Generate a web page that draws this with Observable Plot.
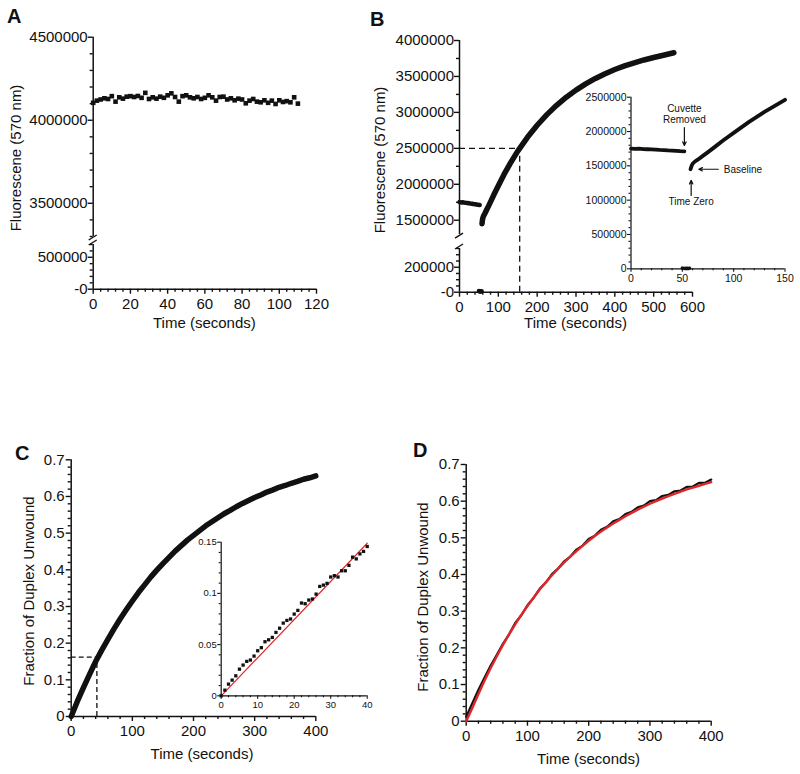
<!DOCTYPE html>
<html><head><meta charset="utf-8">
<script src="https://cdn.jsdelivr.net/npm/d3@7"></script>
<script src="https://cdn.jsdelivr.net/npm/@observablehq/plot@0.6"></script>
<style>
body{margin:0;background:#fff;}
#fig{position:relative;width:800px;height:774px;overflow:hidden;font-family:"Liberation Sans",Arial,Helvetica,sans-serif;color:#111;}
#fig svg{position:absolute;left:0;top:0;}
.lbl{position:absolute;white-space:nowrap;line-height:1;font-size:15px;}
.ylab{transform:translate(-50%,-50%) rotate(-90deg);}
.xlab{transform:translate(-50%,-50%);}
.panel{font-weight:bold;font-size:20px;}
</style></head><body><div id="fig"></div><script>
// ---------------- Panel A data ----------------
const aTime = [0,2,4,6,8,10,12,14,16,18,20,22,24,26,28,30,32,34,36,38,40,42,44,46,48,50,52,54,56,58,60,62,64,66,68,70,72,74,76,78,80,82,84,86,88,90,92,94,96,98,100,102,104,106,108,110];
const aFluor = [4105000,4118000,4125000,4132000,4128000,4145000,4112000,4138000,4130000,4142000,4145000,4140000,4146000,4135000,4165000,4128000,4138000,4130000,4142000,4135000,4150000,4162000,4140000,4112000,4145000,4150000,4138000,4132000,4140000,4128000,4135000,4150000,4138000,4118000,4140000,4142000,4125000,4132000,4120000,4130000,4125000,4102000,4118000,4128000,4112000,4108000,4120000,4105000,4118000,4098000,4120000,4110000,4115000,4108000,4138000,4100000];
const aYTicks = [0, 500000, 3500000, 4000000, 4500000];
const aXTicks = [0, 20, 40, 60, 80, 100, 120];

// ---------------- Panel B data ----------------
const bFlatTime = [0,4,8,12,16,20,24,28,32,36,40,44,48,52];
const bFlatFluor = [1752000,1748000,1750000,1745000,1742000,1740000,1736000,1732000,1730000,1725000,1722000,1718000,1714000,1712000];
const bDropTime = [50, 52, 54, 56, 57];
const bDropFluor = [10000, 6000, 8000, 5000, 9000];
const bRiseTime = [58,59,60,62,65,70,75,82,90,100,115,130,150,175,200,225,250,275,300,325,350,375,400,425,450,475,500,525,552];
const bRiseFluor = [1450000,1500000,1530000,1560000,1590000,1645000,1700000,1780000,1872000,1980000,2140000,2285000,2462000,2653000,2821000,2969000,3098000,3211000,3310000,3396000,3472000,3538000,3596000,3646000,3690000,3729000,3763000,3795000,3830000];
const bHalfTime = 155, bHalfFluor = 2500000;
const bYTicks = [0, 200000, 1500000, 2000000, 2500000, 3000000, 3500000, 4000000];
const bXTicks = [0, 100, 200, 300, 400, 500, 600];
const bInsetYTicks = [0, 500000, 1000000, 1500000, 2000000, 2500000];
const bInsetXTicks = [0, 50, 100, 150];
const bNoteText = ["Cuvette", "Removed", "Time Zero"];
const bNoteTime = [52, 52, 58.6];
const bNoteFluor = [2331000, 2171000, 970000];
const bNote2Text = ["Baseline"];
const bNote2Time = [90.4];
const bNote2Fluor = [1442000];
const bArrowT1 = [52, 85, 58.6], bArrowF1 = [2058000, 1450000, 1068000];
const bArrowT2 = [52, 66, 58.6], bArrowF2 = [1796000, 1450000, 1290000];

// ---------------- Panel C data ----------------
const cTime = [0,10,20,30,40,50,60,70,80,90,100,110,120,130,140,150,160,170,180,190,200,210,220,230,240,250,260,270,280,290,300,310,320,330,340,350,360,370,380,390,400];
const cFrac = [0,0.041,0.079,0.115,0.150,0.181,0.210,0.239,0.266,0.291,0.315,0.338,0.359,0.380,0.399,0.417,0.434,0.451,0.466,0.481,0.494,0.507,0.520,0.531,0.542,0.553,0.562,0.572,0.581,0.589,0.597,0.604,0.612,0.618,0.625,0.630,0.636,0.641,0.647,0.651,0.656];
const cHalfTime = 42, cHalfFrac = 0.162;
const cYTicks = [0, 0.1, 0.2, 0.3, 0.4, 0.5, 0.6, 0.7];
const cXTicks = [0, 100, 200, 300, 400];
const cInsetTime = [0,1,2,3,4,5,6,7,8,9,10,11,12,13,14,15,16,17,18,19,20,21,22,23,24,25,26,27,28,29,30,31,32,33,34,35,36,37,38,39,40];
const cInsetFrac = [0,0.0055,0.0114,0.0153,0.0195,0.026,0.030,0.0336,0.0349,0.0388,0.044,0.047,0.0528,0.0547,0.057,0.0619,0.066,0.071,0.0736,0.075,0.0798,0.0834,0.0906,0.0899,0.0935,0.0945,0.0993,0.1068,0.1081,0.1098,0.116,0.1173,0.116,0.1221,0.1221,0.1274,0.1354,0.1337,0.1386,0.141,0.1458];
const cFitTime = [0, 40];
const cFitFrac = [0, 0.149];
const cInsetYTicks = [0, 0.05, 0.1, 0.15];
const cInsetXTicks = [0, 10, 20, 30, 40];

// ---------------- Panel D data ----------------
const dTime = cTime;
const dFrac = [0.012,0.049,0.086,0.119,0.152,0.181,0.211,0.237,0.268,0.289,0.316,0.336,0.361,0.378,0.401,0.416,0.436,0.449,0.468,0.479,0.497,0.506,0.522,0.530,0.545,0.551,0.565,0.571,0.583,0.588,0.600,0.603,0.614,0.617,0.627,0.629,0.639,0.640,0.650,0.650,0.659];
const dFitFrac = [0,0.036,0.074,0.111,0.145,0.177,0.208,0.237,0.264,0.290,0.314,0.337,0.359,0.379,0.398,0.416,0.433,0.449,0.464,0.478,0.492,0.505,0.517,0.528,0.539,0.549,0.559,0.568,0.577,0.585,0.593,0.600,0.607,0.614,0.620,0.626,0.632,0.637,0.642,0.647,0.652];

// ---------------- helpers ----------------
const FONT = '"Liberation Sans", Arial, Helvetica, sans-serif';
const INK = "#111";
const RED = "#e0262a";
const W = 800, H = 774;
const fig = document.getElementById("fig");

function mg(left, right, top, bottom) {
  return {width: W, height: H, marginLeft: left, marginRight: W - right, marginTop: top, marginBottom: H - bottom};
}
function st(size) {
  return {fontFamily: FONT, fontSize: size + "px", background: "transparent", overflow: "visible", color: INK};
}
function minorOf(lo, hi, step, majors) {
  return d3.range(lo, hi + step / 2, step).map(v => +v.toFixed(6))
    .filter(v => !majors.some(m => Math.abs(m - v) < step / 10));
}
function axisMarks(o) {
  return [
    Plot.axisY({ticks: o.yTicks, tickFormat: o.yFmt, tickSize: o.major, tickPadding: o.yPad, fontSize: o.size, strokeWidth: o.sw, label: null}),
    Plot.axisY({ticks: o.yMinor, tickFormat: () => "", tickSize: o.minor, strokeWidth: o.sw, label: null}),
    Plot.axisX({ticks: o.xTicks, tickFormat: o.xFmt, tickSize: o.major, tickPadding: o.xPad, fontSize: o.size, strokeWidth: o.sw, label: null}),
    Plot.axisX({ticks: o.xMinor, tickFormat: () => "", tickSize: o.minor, strokeWidth: o.sw, label: null})
  ];
}
function breakMark(xv, yUpper, yLower) {
  return (index, scales) => {
    const x0 = scales.x(xv), y1 = scales.y(yUpper), y2 = scales.y(yLower);
    const g = d3.create("svg:g").attr("stroke", INK).attr("stroke-width", 1.4).attr("fill", "none");
    for (const yy of [y1 + 1.5, y2 - 1.5]) {
      g.append("line").attr("x1", x0 - 4).attr("y1", yy + 2.5).attr("x2", x0 + 4).attr("y2", yy - 2.5);
    }
    return g.node();
  };
}
const fmtNeg0 = d => d === 0 ? "-0" : String(d);
const fmtPlain = d => String(d);
function add(el) { fig.appendChild(el); }
function label(text, cls, left, top) {
  const d = document.createElement("div");
  d.className = "lbl " + cls;
  d.textContent = text;
  d.style.left = left + "px";
  d.style.top = top + "px";
  fig.appendChild(d);
}

// ---------------- Panel A ----------------
const rowsA = aTime.map((t, i) => ({t, f: aFluor[i]}));
add(Plot.plot({
  ...mg(92.7, 316, 36.7, 288.7),
  style: st(15),
  x: {domain: [0, 120]},
  y: {type: "linear", domain: [0, 700000, 3300000, 4500000], range: [288.7, 244, 236, 36.7]},
  marks: [
    Plot.ruleX([{a: 0, b: 700000}, {a: 3300000, b: 4500000}], {x: 0, y1: "a", y2: "b", stroke: INK, strokeWidth: 1.5}),
    Plot.ruleY([0], {x1: 0, x2: 120, stroke: INK, strokeWidth: 1.5}),
    ...axisMarks({yTicks: aYTicks, yMinor: minorOf(0, 700000, 100000, aYTicks).concat(minorOf(3300000, 4500000, 100000, aYTicks)),
      xTicks: aXTicks, xMinor: minorOf(0, 120, 4, aXTicks), yFmt: fmtNeg0, xFmt: fmtPlain,
      size: 15, major: 5, minor: 3, xPad: 4, yPad: 0.5, sw: 1.4}),
    breakMark(0, 3300000, 700000),
    Plot.dot(rowsA, {x: "t", y: "f", symbol: "square", r: 2.6, fill: INK})
  ]
}));

// ---------------- Panel B ----------------
const flatB = bFlatTime.map((t, i) => ({t, f: bFlatFluor[i]}));
const dropB = bDropTime.map((t, i) => ({t, f: bDropFluor[i]}));
const riseB = bRiseTime.map((t, i) => ({t, f: bRiseFluor[i]}));
add(Plot.plot({
  ...mg(459, 692, 40, 291.7),
  style: st(15),
  x: {domain: [0, 600]},
  y: {type: "linear", domain: [0, 350000, 1300000, 4000000], range: [291.7, 248, 234.1, 40]},
  marks: [
    Plot.ruleX([{a: 0, b: 350000}, {a: 1300000, b: 4000000}], {x: 0, y1: "a", y2: "b", stroke: INK, strokeWidth: 1.5}),
    Plot.ruleY([0], {x1: 0, x2: 600, stroke: INK, strokeWidth: 1.5}),
    ...axisMarks({yTicks: bYTicks, yMinor: minorOf(0, 350000, 50000, bYTicks).concat(minorOf(1500000, 4000000, 250000, bYTicks)),
      xTicks: bXTicks, xMinor: minorOf(0, 600, 20, bXTicks), yFmt: fmtNeg0, xFmt: fmtPlain,
      size: 15, major: 5, minor: 3, xPad: 4, yPad: 0.5, sw: 1.4}),
    breakMark(0, 1300000, 350000),
    Plot.ruleY([bHalfFluor], {x1: 0, x2: bHalfTime, stroke: INK, strokeWidth: 1.3, strokeDasharray: "6,4"}),
    Plot.ruleX([bHalfTime], {y1: 0, y2: bHalfFluor, stroke: INK, strokeWidth: 1.3, strokeDasharray: "6,4"}),
    Plot.line(flatB, {x: "t", y: "f", stroke: INK, strokeWidth: 4.5, strokeLinecap: "round"}),
    Plot.dot(dropB, {x: "t", y: "f", r: 2.2, fill: INK}),
    Plot.line(riseB, {x: "t", y: "f", stroke: INK, strokeWidth: 5.5, strokeLinecap: "round"})
  ]
}));

// ---------------- Panel B inset ----------------
const notesB = bNoteText.map((s, i) => ({s, t: bNoteTime[i], f: bNoteFluor[i]}));
const notes2B = bNote2Text.map((s, i) => ({s, t: bNote2Time[i], f: bNote2Fluor[i]}));
const arrowsB = bArrowT1.map((t, i) => ({t1: t, f1: bArrowF1[i], t2: bArrowT2[i], f2: bArrowF2[i]}));
add(Plot.plot({
  ...mg(630.5, 784.5, 96.7, 268.3),
  style: st(10.5),
  x: {domain: [0, 150]},
  y: {domain: [0, 2500000]},
  marks: [
    Plot.ruleX([0], {y1: 0, y2: 2500000, stroke: INK, strokeWidth: 1.2}),
    Plot.ruleY([0], {x1: 0, x2: 150, stroke: INK, strokeWidth: 1.2}),
    ...axisMarks({yTicks: bInsetYTicks, yMinor: minorOf(0, 2500000, 100000, bInsetYTicks),
      xTicks: bInsetXTicks, xMinor: minorOf(0, 150, 10, bInsetXTicks), yFmt: fmtPlain, xFmt: fmtPlain,
      size: 10.5, major: 3.5, minor: 2, xPad: 2.2, yPad: 1, sw: 1.1}),
    Plot.line(flatB, {x: "t", y: "f", stroke: INK, strokeWidth: 3.8, strokeLinecap: "round"}),
    Plot.line(dropB, {x: "t", y: "f", stroke: INK, strokeWidth: 3.5, strokeLinecap: "round"}),
    Plot.line(riseB.filter(d => d.t <= 150), {x: "t", y: "f", stroke: INK, strokeWidth: 3.8, strokeLinecap: "round"}),
    Plot.arrow(arrowsB, {x1: "t1", y1: "f1", x2: "t2", y2: "f2", stroke: INK, strokeWidth: 1.2, headLength: 5, headAngle: 50}),
    Plot.text(notesB, {x: "t", y: "f", text: "s", fontSize: 10, fill: INK, textAnchor: "middle"}),
    Plot.text(notes2B, {x: "t", y: "f", text: "s", fontSize: 10, fill: INK, textAnchor: "start"})
  ]
}));

// ---------------- Panel C ----------------
const rowsC = cTime.map((t, i) => ({t, f: cFrac[i]}));
add(Plot.plot({
  ...mg(70.7, 315.3, 459.3, 716),
  style: st(15),
  x: {domain: [0, 400]},
  y: {domain: [0, 0.7]},
  marks: [
    Plot.ruleX([0], {y1: 0, y2: 0.7, stroke: INK, strokeWidth: 1.5}),
    Plot.ruleY([0], {x1: 0, x2: 400, stroke: INK, strokeWidth: 1.5}),
    ...axisMarks({yTicks: cYTicks, yMinor: minorOf(0, 0.7, 0.02, cYTicks),
      xTicks: cXTicks, xMinor: minorOf(0, 400, 20, cXTicks), yFmt: fmtPlain, xFmt: fmtPlain,
      size: 15, major: 5, minor: 3, xPad: 4, yPad: 1.5, sw: 1.4}),
    Plot.ruleY([cHalfFrac], {x1: 0, x2: cHalfTime, stroke: INK, strokeWidth: 1.3, strokeDasharray: "5,3"}),
    Plot.ruleX([cHalfTime], {y1: 0, y2: cHalfFrac, stroke: INK, strokeWidth: 1.3, strokeDasharray: "5,3"}),
    Plot.line(rowsC, {x: "t", y: "f", stroke: INK, strokeWidth: 5.5, strokeLinecap: "round"})
  ]
}));

// ---------------- Panel C inset ----------------
const rowsCi = cInsetTime.map((t, i) => ({t, f: cInsetFrac[i]}));
const fitCi = cFitTime.map((t, i) => ({t, f: cFitFrac[i]}));
add(Plot.plot({
  ...mg(220.7, 366.7, 541.7, 695.3),
  style: st(9.5),
  x: {domain: [0, 40]},
  y: {domain: [0, 0.15]},
  marks: [
    Plot.ruleX([0], {y1: 0, y2: 0.15, stroke: INK, strokeWidth: 1.2}),
    Plot.ruleY([0], {x1: 0, x2: 40, stroke: INK, strokeWidth: 1.2}),
    ...axisMarks({yTicks: cInsetYTicks, yMinor: minorOf(0, 0.15, 0.01, cInsetYTicks),
      xTicks: cInsetXTicks, xMinor: minorOf(0, 40, 2, cInsetXTicks), yFmt: fmtPlain, xFmt: fmtPlain,
      size: 9.5, major: 3.5, minor: 2, xPad: 2, yPad: 1, sw: 1.1}),
    Plot.line(fitCi, {x: "t", y: "f", stroke: RED, strokeWidth: 1.2}),
    Plot.dot(rowsCi, {x: "t", y: "f", symbol: "square", r: 1.85, fill: INK})
  ]
}));

// ---------------- Panel D ----------------
const rowsD = dTime.map((t, i) => ({t, f: dFrac[i], fit: dFitFrac[i]}));
add(Plot.plot({
  ...mg(465.7, 710.7, 464, 720.7),
  style: st(15),
  x: {domain: [0, 400]},
  y: {domain: [0, 0.7]},
  marks: [
    Plot.ruleX([0], {y1: 0, y2: 0.7, stroke: INK, strokeWidth: 1.5}),
    Plot.ruleY([0], {x1: 0, x2: 400, stroke: INK, strokeWidth: 1.5}),
    ...axisMarks({yTicks: cYTicks, yMinor: minorOf(0, 0.7, 0.02, cYTicks),
      xTicks: cXTicks, xMinor: minorOf(0, 400, 20, cXTicks), yFmt: fmtPlain, xFmt: fmtPlain,
      size: 15, major: 5, minor: 3, xPad: 4, yPad: 1.5, sw: 1.4}),
    Plot.line(rowsD, {x: "t", y: "f", stroke: INK, strokeWidth: 2.2}),
    Plot.line(rowsD, {x: "t", y: "fit", stroke: RED, strokeWidth: 2.4})
  ]
}));

// ---------------- Labels ----------------
label("A", "panel", 7, 6.4);
label("B", "panel", 370, 9.1);
label("C", "panel", 15, 443.1);
label("D", "panel", 413, 440.1);
label("Fluorescene (570 nm)", "ylab", 15, 158);
label("Fluorescene (570 nm)", "ylab", 378.5, 160);
label("Fraction of Duplex Unwound", "ylab", 28.3, 591);
label("Fraction of Duplex Unwound", "ylab", 422, 596.7);
label("Time (seconds)", "xlab", 204.4, 322);
label("Time (seconds)", "xlab", 575.5, 322);
label("Time (seconds)", "xlab", 202, 752.7);
label("Time (seconds)", "xlab", 588.5, 757.7);
</script></body></html>
